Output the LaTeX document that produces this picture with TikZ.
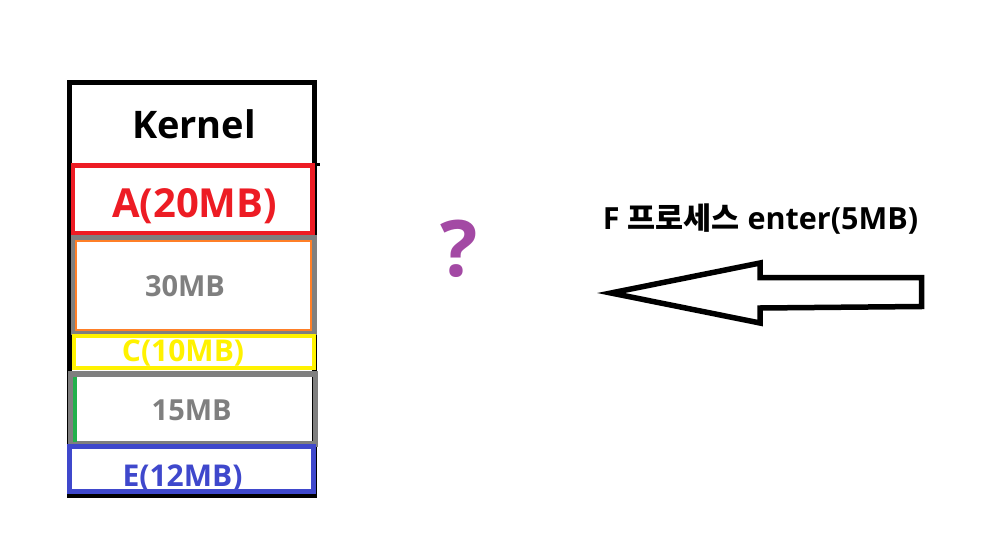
\documentclass[tikz,border=0pt]{standalone}
\usepackage{fontspec}
\setmainfont{Open Sans}
\newfontfamily\kr{Noto Sans CJK KR}
\definecolor{pred}{HTML}{ED1C24}
\definecolor{pgray}{HTML}{7F7F7F}
\definecolor{porange}{HTML}{FF7F27}
\definecolor{pyellow}{HTML}{FFF200}
\definecolor{pgreen}{HTML}{22B14C}
\definecolor{pblue}{HTML}{3F48CC}
\definecolor{ppurple}{HTML}{A349A4}
\begin{document}
\begin{tikzpicture}[x=1pt,y=-1pt,
  lbl/.style={anchor=base,inner sep=0pt,font=\bfseries},
  blockline/.style={line join=miter}]
\useasboundingbox[fill=white] (0,0) rectangle (991,549);
% outer memory box
\draw[line width=5pt,black] (69.3,82.8) rectangle (314.5,495.3);
\draw[line width=3.5pt,black] (314,164.5) -- (320,164.5);
% A
\draw[line width=4.8pt,pred] (73,165.8) rectangle (312.5,233.2);
% 30MB hole
\draw[line width=5.5pt,pgray] (73.5,237.8) rectangle (314,332.3);
\draw[line width=1.8pt,porange] (76.2,241) rectangle (311,330);
% C
\draw[line width=4pt,pyellow] (74.3,336.4) rectangle (314.3,368.3);
% 15MB hole
\draw[line width=5.5pt,pgray] (70.5,374.2) rectangle (315.5,444.2);
\draw[line width=3.5pt,pgreen] (74.9,376.5) -- (74.9,441.5);
% E
\draw[line width=4.8pt,pblue] (69.2,446.8) rectangle (313.2,491.4);
% texts
\node[lbl,font=\bfseries\fontsize{38}{40}\selectfont] (kernel) at (194,138) {Kernel};
\node[lbl,text=pred,font=\bfseries\fontsize{40}{42}\selectfont] (a) at (194.5,217) {A(20MB)};
\node[lbl,text=pgray,font=\bfseries\fontsize{29}{31}\selectfont] (b) at (185,296.7) {30MB};
\node[lbl,text=pyellow,font=\bfseries\fontsize{30}{32}\selectfont] (c) at (183,361.7) {C(10MB)};
\node[lbl,text=pgray,font=\bfseries\fontsize{29}{31}\selectfont] (d) at (191.7,420) {15MB};
\node[lbl,text=pblue,font=\bfseries\fontsize{30}{32}\selectfont] (e) at (182.5,486.7) {E(12MB)};
\node[lbl,text=ppurple,font=\bfseries\fontsize{78}{80}\selectfont] (q) at (459.5,276.7) {?};
\node[lbl,font=\bfseries\fontsize{30.5}{32}\selectfont] (f) at (760.5,229) {F {\kr\bfseries 프로세스} enter(5MB)};
% arrow
\draw[line width=5.5pt,blockline] (611,293) -- (760,263) -- (760,277.5) -- (921.5,277.5) -- (921.5,306.5) -- (760,308) -- (760,323) -- cycle;
\end{tikzpicture}
\end{document}
